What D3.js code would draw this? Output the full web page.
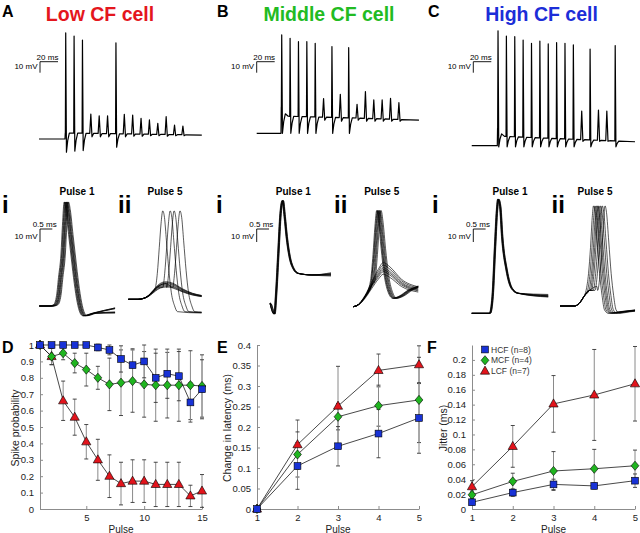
<!DOCTYPE html>
<html><head><meta charset="utf-8">
<script src="https://cdn.jsdelivr.net/npm/d3@7/dist/d3.min.js"></script>
<style>
html,body{margin:0;padding:0;background:#fff;}
svg{display:block;}
</style></head><body>
<svg id="fig" width="640" height="533"></svg>
<script>
// ================= DATA =================
const pulseTimesMs = [0.8,10.1,19.4,28.7,38.0,47.3,56.6,65.9,75.2,84.5,93.8,103.1,112.4,121.7,131.0];

// Top-row membrane traces (mV relative to rest)
const baseLow  = [[-28.9,0],[0,0],[0.3,5.5],[60,4.8],[152,3.6]];
const peaksLow = [96.4,93.6,90,22.7,21,21,87.3,22.5,21.8,18.8,17.3,14.3,20.3,12.7,11.8];
const troughsLow = [-12,-11,-10.5,2,2,2,-7.5,2,2.5,2.5,3,3,2.5,3,3];
const baseMid  = [[-27,0],[0,0],[0.3,24],[3,19],[8,15.5],[80,14],[153.3,12]];
const peaksMid = [89.4,86.4,83.3,83.3,81.8,31.5,78.8,35.5,77.8,26.4,37.9,30.3,30.3,31.8,27.8];
const troughsMid = [0,0,0,0,0,12,0,11,0,12,11,11,11,11,11];
const baseHigh = [[-28.4,0],[0,0],[0.3,16],[3,12],[8,8.5],[80,6],[153,3.6]];
const peaksHigh = [104.5,99.7,99.1,96.1,93.1,95.2,92.5,93.7,93.1,91.6,31.5,87.9,32.4,31.5,91];
const troughsHigh = [-1,-1,-1,-1,-1,-1,-1,-1,-1,-1,4,-1,4,4,-1];

// Overlaid spikes, Pulse 1 (ms relative to peak, mV)
const apLowP1 = [[-0.6,0],[-0.43,1],[-0.31,8],[-0.23,22],[-0.13,40],[-0.07,62],[0,80],[0.07,74],[0.18,55],[0.27,40],[0.38,22],[0.5,6],[0.62,-4],[0.75,-7.5],[1.15,-5.5]];
const jitterLowP1 = [-0.1,-0.07,-0.05,-0.02,0,0.02,0.05,0.08];
const tailLowP1 = [-1.5,-1.5,-2,-2,-5,-5,-5.5,-4.5];
const apMidP1 = [[-0.52,0],[-0.34,-8.2],[-0.26,10.2],[-0.18,38.5],[-0.09,69],[0,79],[0.08,66.6],[0.16,51.3],[0.28,35.8],[0.43,26.9],[0.63,23],[1.17,21.8]];
const jitterMidP1 = [-0.03,-0.02,-0.01,0,0.01,0.02,0.03];
const tailMidP1 = [21,22,23,22.5,21.5,23.5,22];
const apHighP1 = [[-0.5,0],[-0.34,0],[-0.23,12.8],[-0.13,51.2],[-0.05,79.5],[0,87.7],[0.08,82],[0.16,58.9],[0.34,33.3],[0.55,19.2],[0.81,15.4]];
const jitterHighP1 = [-0.03,-0.02,-0.01,0,0.01,0.02,0.03];
const tailHighP1 = [13.5,12.5,14,13,14.5,13.5,12.8];

// Overlaid responses, Pulse 5 (EPSP normalised shape, spike shape, spike times, failure amplitudes)
const epspLowP5 = [[0,0],[0.4,0],[0.6,0.05],[0.8,0.2],[1.0,0.5],[1.2,0.8],[1.4,0.97],[1.55,1],[1.8,0.92],[2.2,0.6],[2.6,0.35],[2.98,0.22]];
const apLowP5 = [[-0.3,9],[-0.22,20],[-0.14,40],[-0.07,58],[0,68],[0.07,63],[0.15,45],[0.25,22],[0.35,5],[0.48,-5],[0.6,-9.5],[1.5,-10.5]];
const spikeTimesLowP5 = [1.40,1.70,1.86,2.10];
const failAmpsLowP5 = [13.5,12.8,12,11,10.2,9.5];
const epspMidP5 = [[0,0],[0.2,0.05],[0.47,0.25],[0.74,0.55],[1.02,0.85],[1.22,1],[1.49,0.9],[1.96,0.62],[2.64,0.45]];
const apMidP5 = [[-0.25,20],[-0.15,40],[-0.07,62],[0,74],[0.08,65],[0.18,45],[0.3,25],[0.45,12],[0.65,6.5],[0.9,8],[1.3,13],[1.7,16]];
const spikeTimesMidP5 = [0.95,0.98,1.0,1.03,1.06,1.09,1.13];
const failAmpsMidP5 = [34,32,30,28.5,27,25];
const epspHighP5 = [[0,0],[0.59,0],[0.79,0.15],[0.98,0.5],[1.2,0.8],[1.5,1],[2.0,0.9],[3.05,0.7]];
const apHighP5 = [[-0.3,12],[-0.2,25],[-0.12,45],[-0.05,68],[0,77],[0.06,72],[0.15,50],[0.25,25],[0.35,8],[0.45,-3],[0.6,-5.6],[1.0,-4.5],[1.7,-3]];
const spikeTimesHighP5 = [1.36,1.42,1.48,1.53,1.58,1.65,1.72,1.83];
const failAmpsHighP5 = [];

// Panel D: spike probability
const pulses15 = [1,2,3,4,5,6,7,8,9,10,11,12,13,14,15];
const spikeProbHCF = [1,1,1,1,1,0.985,0.97,0.915,0.877,0.90,0.80,0.825,0.81,0.65,0.73];
const spikeProbHCFErr = [0,0,0,0,0,0.02,0.03,0.08,0.1,0.1,0.15,0.15,0.15,0.12,0.18];
const spikeProbMCF = [1,0.93,0.95,0.89,0.85,0.80,0.76,0.77,0.78,0.76,0.755,0.755,0.755,0.755,0.75];
const spikeProbMCFErr = [0,0.05,0.04,0.06,0.1,0.07,0.16,0.2,0.19,0.2,0.22,0.2,0.22,0.21,0.19];
const spikeProbLCF = [1,0.93,0.66,0.56,0.41,0.30,0.20,0.155,0.17,0.17,0.15,0.15,0.15,0.08,0.11];
const spikeProbLCFErr = [0,0.05,0.12,0.11,0.105,0.125,0.13,0.13,0.13,0.13,0.135,0.135,0.135,0.065,0.1];

// Panel E: change in latency (ms)
const pulses5 = [1,2,3,4,5];
const latencyHCF = [0,0.105,0.153,0.184,0.222];
const latencyHCFErr = [0,0.057,0.048,0.059,0.086];
const latencyMCF = [0,0.133,0.225,0.252,0.266];
const latencyMCFErr = [0,0.055,0.032,0.05,0.104];
const latencyLCF = [0,0.157,0.251,0.338,0.352];
const latencyLCFErr = [0,0.06,0.097,0.04,0.046];

// Panel F: jitter (ms)
const jitterHCF = [0.009,0.022,0.033,0.031,0.038];
const jitterHCFErr = [0.003,0.005,0.007,0.004,0.009];
const jitterMCF = [0.019,0.037,0.051,0.054,0.058];
const jitterMCFErr = [0.005,0.011,0.026,0.026,0.021];
const jitterLCF = [0.030,0.084,0.141,0.153,0.168];
const jitterLCFErr = [0.008,0.028,0.038,0.061,0.05];

const legendLabels = ["HCF (n=8)","MCF (n=4)","LCF (n=7)"];
const yTicksD = [0,0.1,0.2,0.3,0.4,0.5,0.6,0.7,0.8,0.9,1];
const xTicksD = [5,10,15];
const yTicksE = [0,0.05,0.1,0.15,0.2,0.25,0.3,0.35,0.4];
const yTicksF = [0,0.02,0.04,0.06,0.08,0.1,0.12,0.14,0.16,0.18,0.2];

// ================= STYLE =================
const FONT = '"Liberation Sans", Arial, Helvetica, sans-serif';
const RED = "#e2141c", GREEN = "#20b520", BLUE = "#1832d6";
const TRED = "#e4161d", TGREEN = "#22bb22", TBLUE = "#1c2ed8";

const svg = d3.select("#fig");
svg.append("rect").attr("width",640).attr("height",533).attr("fill","#fff");

function txt(x,y,s,size,opts={}){
  const t = svg.append("text").attr("x",x).attr("y",y).text(s)
    .attr("font-family",FONT).attr("font-size",size)
    .attr("fill",opts.fill||"#000").attr("font-weight",opts.bold?"bold":"normal")
    .attr("text-anchor",opts.anchor||"start");
  if(opts.rotate) t.attr("transform",`rotate(-90,${x},${y})`).attr("dominant-baseline","central");
  return t;
}

// ---- headers ----
[["A",2,"Low CF cell",100,TRED],["B",217,"Middle CF cell",329,TGREEN],["C",428,"High CF cell",541.5,TBLUE]]
.forEach(([L,lx,T,tx,c])=>{
  txt(lx,17,L,16,{bold:true});
  txt(tx,20.5,T,19.5,{bold:true,anchor:"middle",fill:c});
});

// ---- helpers ----
function interp(pts,t){
  if(t<=pts[0][0]) return pts[0][1];
  for(let i=1;i<pts.length;i++){
    if(t<=pts[i][0]){const [t0,v0]=pts[i-1],[t1,v1]=pts[i];return v0+(v1-v0)*(t-t0)/(t1-t0);}
  }
  return pts[pts.length-1][1];
}
function clipTo(pts,tEnd){
  const out=[];
  for(let i=0;i<pts.length;i++){
    const p=pts[i];
    if(p[0]<=tEnd) out.push(p);
    else{const q=pts[i-1]; if(q&&q[0]<tEnd){const f=(tEnd-q[0])/(p[0]-q[0]); out.push([tEnd,q[1]+f*(p[1]-q[1])]);} break;}
  }
  const last=out[out.length-1];
  if(last[0]<tEnd) out.push([tEnd,last[1]]);
  return out;
}

// ---- top long traces ----
function longTrace(base,peaks,troughs){
  const pts=[],wins=[];
  peaks.forEach((pk,i)=>{
    const tp=pulseTimesMs[i], big=pk>50, tr=troughs[i];
    const pre=big?0.4:1.2, post=big?4:3.2;
    const b0=interp(base,tp-pre), b1=interp(base,tp+post);
    wins.push([tp-pre,tp+post]);
    pts.push([tp-pre,b0],[tp,pk],[tp+(big?0.8:1.3),tr]);
    if(big) pts.push([tp+2.2,tr+(b1-tr)*0.6]);
    pts.push([tp+post,b1]);
  });
  base.forEach(p=>{ if(!wins.some(w=>p[0]>w[0]&&p[0]<w[1])) pts.push(p); });
  pts.sort((a,b)=>a[0]-b[0]);
  return pts;
}
function topScaleBar(x0,y0,xs,ys){
  const w=xs(20)-xs(0), h=ys(0)-ys(10);
  svg.append("path").attr("d",`M${x0+w},${y0}H${x0}V${y0+h}`).attr("fill","none").attr("stroke","#000").attr("stroke-width",0.9);
  txt(x0+w/2-1.5,y0-1.8,"20 ms",8,{anchor:"middle"});
  txt(x0-2.5,y0+h-3.5,"10 mV",8,{anchor:"end"});
}
[[baseLow,peaksLow,troughsLow,65,139,40],[baseMid,peaksMid,troughsMid,281,133.3,256.7],[baseHigh,peaksHigh,troughsHigh,497.3,145.7,473.3]]
.forEach(([b,p,tr,stepX,restY,barX])=>{
  const xs=d3.scaleLinear().domain([0,100]).range([stepX,stepX+90]);
  const ys=d3.scaleLinear().domain([0,100]).range([restY,restY-110]);
  const line=d3.line().x(d=>xs(d[0])).y(d=>ys(d[1]));
  svg.append("path").attr("d",line(longTrace(b,p,tr))).attr("fill","none").attr("stroke","#000").attr("stroke-width",1.2).attr("stroke-linejoin","round");
  topScaleBar(barX,61.7,xs,ys);
});

// ---- overlay panels ----
function overlayScales(ox,oy){
  return [d3.scaleLinear().domain([0,1]).range([ox,ox+24.6]), d3.scaleLinear().domain([0,10]).range([oy,oy-13])];
}
function drawSweeps(sweeps,xs,ys){
  const line=d3.line().x(d=>xs(d[0])).y(d=>ys(d[1])).curve(d3.curveMonotoneX);
  sweeps.forEach(s=>svg.append("path").attr("d",line(s)).attr("fill","none").attr("stroke","#000").attr("stroke-width",0.65));
}
function p1Sweeps(ap,tPeak,tEnd,jit,tails){
  return jit.map((off,i)=>{
    const tp=tPeak+off;
    let pts=[[0,0]].concat(ap.map(([dt,v])=>[tp+dt,v])).filter(p=>p[0]>=0&&p[0]<tEnd);
    pts=pts.filter((p,j)=>j===0||p[0]>0);
    pts.push([tEnd,tails[i]]);
    return pts;
  });
}
function p5Sweeps(epsp,ap,tEnd,spikes,fails,spikeAmp){
  const out=[];
  fails.forEach(a=>out.push(clipTo(epsp.map(([t,v])=>[t,v*a]),tEnd)));
  spikes.forEach(ts=>{
    const t0=ts+ap[0][0];
    const pre=epsp.filter(p=>p[0]<t0).map(([t,v])=>[t,v*spikeAmp]);
    out.push(clipTo(pre.concat(ap.map(([dt,v])=>[ts+dt,v])),tEnd));
  });
  return out;
}
function overlayBar(x0,y0,xs,ys){
  const w=xs(0.5)-xs(0), h=ys(0)-ys(10);
  svg.append("path").attr("d",`M${x0+w},${y0}H${x0}V${y0+h}`).attr("fill","none").attr("stroke","#000").attr("stroke-width",0.9);
  txt(x0+w/2-1.5,y0-1.8,"0.5 ms",8,{anchor:"middle"});
  txt(x0-2.5,y0+h-3,"10 mV",8,{anchor:"end"});
}
const overlayPanels = [
  {o1:[39.3,306], o5:[128.3,299.3], bar:40, iX:2, iiX:118, p1X:77, p5X:165,
   s1:p1Sweeps(apLowP1,1.11,3.08,jitterLowP1,tailLowP1),
   s5:p5Sweeps(epspLowP5,apLowP5,2.98,spikeTimesLowP5,failAmpsLowP5,12)},
  {o1:[270,303.3], o5:[353.3,306.7], bar:256.7, iX:216, iiX:334, p1X:293.3, p5X:381.7,
   s1:p1Sweeps(apMidP1,0.52,2.48,jitterMidP1,tailMidP1),
   s5:p5Sweeps(epspMidP5,apMidP5,2.64,spikeTimesMidP5,failAmpsMidP5,30)},
  {o1:[471.7,313.3], o5:[560,306], bar:473.3, iX:432, iiX:551.5, p1X:510, p5X:595,
   s1:p1Sweeps(apHighP1,1.08,3.11,jitterHighP1,tailHighP1),
   s5:p5Sweeps(epspHighP5,apHighP5,3.05,spikeTimesHighP5,failAmpsHighP5,15)}
];
overlayPanels.forEach(P=>{
  const [x1,y1]=overlayScales(...P.o1);
  const [x5,y5]=overlayScales(...P.o5);
  drawSweeps(P.s1,x1,y1);
  drawSweeps(P.s5,x5,y5);
  overlayBar(P.bar,229,x1,y1);
  txt(P.iX,213,"i",24,{bold:true});
  txt(P.iiX,213,"ii",24,{bold:true});
  txt(P.p1X,195,"Pulse 1",10,{bold:true,anchor:"middle"});
  txt(P.p5X,195,"Pulse 5",10,{bold:true,anchor:"middle"});
});

// ---- bottom plots ----
function marker(g,shape,color,x,y){
  let el;
  if(shape==="square") el=g.append("rect").attr("x",x-3.4).attr("y",y-3.4).attr("width",6.8).attr("height",6.8);
  else if(shape==="diamond") el=g.append("path").attr("d",`M${x},${y-4.6}L${x+3.9},${y}L${x},${y+4.6}L${x-3.9},${y}Z`);
  else el=g.append("path").attr("d",`M${x},${y-5}L${x+4.6},${y+3.1}L${x-4.6},${y+3.1}Z`);
  el.attr("fill",color).attr("stroke","#000").attr("stroke-width",0.6);
}
function fmt(v){return String(+v.toFixed(3));}
function plotPanel(o){
  const g=svg.append("g");
  const x=d3.scaleLinear().domain(o.xDomain).range(o.xRange);
  const y=d3.scaleLinear().domain(o.yDomain).range([509,345]);
  const ax=g.append("g").attr("transform",`translate(0,${y(o.yDomain[0])})`)
    .call(d3.axisBottom(x).tickValues(o.xTicks).tickSizeInner(-3).tickSizeOuter(0).tickPadding(5.5).tickFormat(fmt));
  const ay=g.append("g").attr("transform",`translate(${x(o.xDomain[0])},0)`)
    .call(d3.axisLeft(y).tickValues(o.yTicks).tickSizeInner(-3).tickSizeOuter(0).tickPadding(6).tickFormat(fmt));
  [ax,ay].forEach(a=>{
    a.attr("font-family",FONT).attr("font-size",9.5);
    a.select(".domain").attr("stroke","#8c8c8c").attr("stroke-width",1);
    a.selectAll(".tick line").attr("stroke","#8c8c8c");
    a.selectAll(".tick text").attr("fill","#222");
  });
  // error bars
  o.series.forEach(s=>{
    s.vals.forEach((v,i)=>{
      const e=s.errs[i]; if(!e) return;
      const xx=x(o.xs[i]);
      g.append("line").attr("x1",xx).attr("x2",xx).attr("y1",y(v-e)).attr("y2",y(v+e)).attr("stroke","#8a8a8a").attr("stroke-width",1);
      [v-e,v+e].forEach(c=>g.append("line").attr("x1",xx-2).attr("x2",xx+2).attr("y1",y(c)).attr("y2",y(c)).attr("stroke","#333").attr("stroke-width",0.9));
    });
  });
  const line=d3.line().x((d,i)=>x(o.xs[i])).y(d=>y(d));
  o.series.forEach(s=>g.append("path").attr("d",line(s.vals)).attr("fill","none").attr("stroke","#1a1a1a").attr("stroke-width",0.8));
  o.series.forEach(s=>s.vals.forEach((v,i)=>marker(g,s.shape,s.color,x(o.xs[i]),y(v))));
  txt(o.letterX,353,o.letter,16,{bold:true});
  txt(o.ylabX,428,o.ylab,10.5,{rotate:true,anchor:"middle",fill:"#222"});
  txt((o.xRange[0]+o.xRange[1])/2,532.5,"Pulse",10,{anchor:"middle",fill:"#222"});
}
plotPanel({letter:"D",letterX:2,xDomain:[1,15],xRange:[40,202],yDomain:[0,1],xTicks:xTicksD,yTicks:yTicksD,xs:pulses15,
  ylab:"Spike probability",ylabX:15,
  series:[{vals:spikeProbLCF,errs:spikeProbLCFErr,color:RED,shape:"triangle"},
          {vals:spikeProbMCF,errs:spikeProbMCFErr,color:GREEN,shape:"diamond"},
          {vals:spikeProbHCF,errs:spikeProbHCFErr,color:BLUE,shape:"square"}]});
plotPanel({letter:"E",letterX:217,xDomain:[1,5],xRange:[257,419],yDomain:[0,0.4],xTicks:pulses5,yTicks:yTicksE,xs:pulses5,
  ylab:"Change in latency (ms)",ylabX:226.5,
  series:[{vals:latencyLCF,errs:latencyLCFErr,color:RED,shape:"triangle"},
          {vals:latencyMCF,errs:latencyMCFErr,color:GREEN,shape:"diamond"},
          {vals:latencyHCF,errs:latencyHCFErr,color:BLUE,shape:"square"}]});
plotPanel({letter:"F",letterX:427,xDomain:[1,5],xRange:[472,635],yDomain:[0,0.22],xTicks:pulses5,yTicks:yTicksF,xs:pulses5,
  ylab:"Jitter (ms)",ylabX:442.5,
  series:[{vals:jitterLCF,errs:jitterLCFErr,color:RED,shape:"triangle"},
          {vals:jitterMCF,errs:jitterMCFErr,color:GREEN,shape:"diamond"},
          {vals:jitterHCF,errs:jitterHCFErr,color:BLUE,shape:"square"}]});

// legend (panel F)
const lg=svg.append("g");
[["square",BLUE],["diamond",GREEN],["triangle",RED]].forEach(([sh,c],i)=>{
  const yy=349.5+i*10.8;
  marker(lg,sh,c,485,yy);
  txt(491,yy+3,legendLabels[i],8.5,{fill:"#333"});
});
</script>
</body></html>
